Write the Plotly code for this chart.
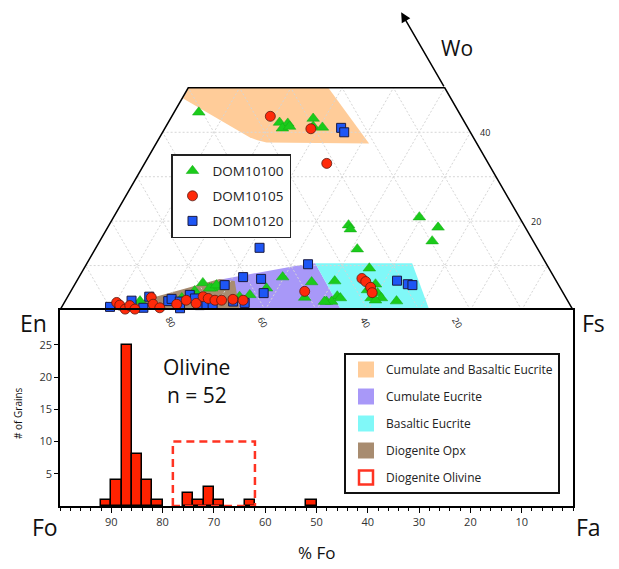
import math
import plotly.graph_objects as go

# ---------------- data ----------------
# Pyroxene compositions, mol% (Fs, Wo); En = 100 - Fs - Wo
dom10100_fs = [4.8, 21.7, 23.4, 22.9, 24.1, 27.8, 28.7, 30.6,
               46.7, 47.5, 51.1, 59.6, 64.4, 64.8,
               55.6, 50.3, 58.6, 60.0, 52.5, 53.3, 51.0, 52.0, 59.3, 61.3, 64.6, 60.4, 57.7,
               39.7, 45.9, 46.3, 50.6, 37.8, 35.3, 28.5, 27.1,
               14.6, 22.4, 24.1, 24.8, 26.7, 27.7, 33.5, 25.0]
dom10100_wo = [44.5, 42.2, 42.0, 40.9, 41.3, 43.1, 41.3, 41.1,
               19.1, 18.2, 13.7, 20.9, 18.6, 15.5,
               9.4, 6.5, 5.8, 3.8, 3.1, 2.7, 1.9, 1.9, 2.7, 2.7, 2.0, 2.2, 4.5,
               7.4, 6.3, 2.8, 1.9, 4.9, 3.4, 5.2, 4.9,
               2.0, 2.7, 4.3, 6.1, 4.9, 5.6, 3.0, 3.4]

dom10105_fs = [19.2, 28.5, 35.5, 55.3, 56.4, 58.0, 58.9, 45.6, 10.2, 11.1, 12.6, 13.1,
               14.5, 16.4, 17.5, 19.2, 22.1, 23.5, 25.8, 26.4, 27.6, 29.1, 30.4, 32.5, 34.6]
dom10105_wo = [43.6, 40.8, 33.0, 7.1, 6.4, 5.1, 3.9, 4.2, 1.7, 1.1, 0.2, 1.0,
               0.2, 2.8, 1.3, 0.5, 1.3, 2.2, 1.5, 3.0, 2.6, 2.2, 2.2, 2.4, 2.2]

dom10120_fs = [34.3, 35.4, 31.9, 43.2, 32.0, 35.7, 37.8, 35.2, 62.4, 64.9, 65.9, 9.4, 12.9,
               15.9, 16.0, 20.1, 20.5, 22.4, 23.6, 25.0, 26.7, 27.9, 29.3, 32.8, 29.1, 23.2]
dom10120_wo = [41.0, 40.0, 14.0, 10.3, 7.4, 7.0, 3.8, 1.6, 6.6, 5.8, 5.6, 0.7, 2.1,
               3.0, 0.5, 2.0, 2.5, 1.9, 3.4, 2.6, 1.1, 1.3, 5.6, 1.9, 1.3, 0.4]

# Compositional fields (Fs, Wo)
cbe_fs = [0.0, 27.3, 41.5, 21.4, 19.4, 17.5, 0.2]
cbe_wo = [50.0, 50.0, 37.5, 37.7, 38.2, 38.9, 47.6]
ce_fs = [17.0, 27.7, 41.6, 44.5, 54.8]
ce_wo = [0.0, 6.8, 10.1, 10.5, 0.0]
be_fs = [44.5, 63.4, 72.0, 54.8]
be_wo = [10.5, 10.5, 0.0, 0.0]
dio_fs = [13.6, 14.1, 27.6, 30.8, 35.0]
dio_wo = [0.0, 1.8, 7.0, 6.5, 0.0]

grid_vals = [10, 20, 30, 40, 50, 60, 70, 80, 90]
wo_tick_vals = [20, 40]
en_tick_vals = [80, 60, 40, 20]
wo_arrow_tip = 67  # Wo % reached by the axis arrow

# Olivine histogram (% Fo, 2% bins)
fo_bin_centers = [91, 89, 87, 85, 83, 81, 75, 73, 71, 69, 63, 51]
fo_counts = [1, 4, 25, 8, 4, 1, 2, 1, 3, 1, 1, 1]
dio_ol_fo = [78, 62]
dio_ol_count = 10
fo_tick_vals = [90, 80, 70, 60, 50, 40, 30, 20, 10]
count_tick_vals = [5, 10, 15, 20, 25]

# ---------------- helpers ----------------
S3 = math.sqrt(3) / 2


def tx(fs, wo):
    return [f + w / 2 for f, w in zip(fs, wo)]


def ty(wo):
    return [w * S3 for w in wo]


W, H = 619, 569
ML, MR = 60, 46
PW = W - ML - MR
SCALE = PW / 100.0
TOP_BASE = 310   # pixel row of the En-Fs join
HIST_BASE = 506  # pixel row of zero count


def paper(px, py):
    return (px - ML) / PW, (H - py) / H


FONT = "Open Sans"
fig = go.Figure()

# fields
fields = [
    ("Cumulate and Basaltic Eucrite", cbe_fs, cbe_wo, "#FFCC99"),
    ("Cumulate Eucrite", ce_fs, ce_wo, "#A898F8"),
    ("Basaltic Eucrite", be_fs, be_wo, "#80F8F8"),
    ("Diogenite Opx", dio_fs, dio_wo, "#A88C70"),
]
for name, fs, wo, col in fields:
    fig.add_trace(go.Scatter(x=tx(fs, wo), y=ty(wo), fill="toself", fillcolor=col,
                             mode="none", showlegend=False, hoverinfo="skip",
                             xaxis="x", yaxis="y"))

# grid lines
gx, gy = [], []
for v in grid_vals:
    if v < 50:
        gx += [v / 2, 100 - v / 2, None]
        gy += [v * S3, v * S3, None]
    top = min(50, 100 - v)
    gx += [v, v + top / 2, None]          # constant Fs
    gy += [0, top * S3, None]
    gx += [100 - v, 100 - v - top / 2, None]  # constant En
    gy += [0, top * S3, None]
fig.add_trace(go.Scatter(x=gx, y=gy, mode="lines", line=dict(color="#d6d6d6", width=1, dash="2px,2px"),
                         showlegend=False, hoverinfo="skip", xaxis="x", yaxis="y"))

# outline
ox = [0, 25, 75, 100, 0]
oy = [0, 50 * S3, 50 * S3, 0, 0]
fig.add_trace(go.Scatter(x=ox, y=oy, mode="lines", line=dict(color="black", width=1.5),
                         showlegend=False, hoverinfo="skip", cliponaxis=False, xaxis="x", yaxis="y"))

# samples
fig.add_trace(go.Scatter(x=tx(dom10100_fs, dom10100_wo), y=ty(dom10100_wo), mode="markers",
                         name="DOM10100", legendrank=1, legendgroup="a", cliponaxis=False,
                         marker=dict(symbol="triangle-up", size=11, color="#1BCB1B",
                                     line=dict(color="#14a814", width=0.5)),
                         xaxis="x", yaxis="y", legend="legend"))
fig.add_trace(go.Scatter(x=tx(dom10120_fs, dom10120_wo), y=ty(dom10120_wo), mode="markers",
                         name="DOM10120", legendrank=3, legendgroup="c", cliponaxis=False,
                         marker=dict(symbol="square", size=9, color="#1E56F5",
                                     line=dict(color="#1a1a40", width=1)),
                         xaxis="x", yaxis="y", legend="legend"))
fig.add_trace(go.Scatter(x=tx(dom10105_fs, dom10105_wo), y=ty(dom10105_wo), mode="markers",
                         name="DOM10105", legendrank=2, legendgroup="b", cliponaxis=False,
                         marker=dict(symbol="circle", size=10, color="#FF2A0A",
                                     line=dict(color="#5a1a10", width=0.8)),
                         xaxis="x", yaxis="y", legend="legend"))

# histogram
fig.add_trace(go.Bar(x=fo_bin_centers, y=fo_counts, width=2, marker=dict(color="#FF2200",
                     line=dict(color="black", width=1.5)), showlegend=False,
                     xaxis="x2", yaxis="y2"))
fig.add_trace(go.Scatter(x=[dio_ol_fo[0], dio_ol_fo[0], dio_ol_fo[1], dio_ol_fo[1], dio_ol_fo[0]],
                         y=[0, dio_ol_count, dio_ol_count, 0, 0], mode="lines",
                         line=dict(color="#FF3322", width=2.5, dash="8px,5px"),
                         showlegend=False, xaxis="x2", yaxis="y2"))

# legend-2 proxies
for i, (name, fs, wo, col) in enumerate(fields):
    fig.add_trace(go.Scatter(x=[None], y=[None], mode="markers", name=name, legend="legend2",
                             legendgroup=name,
                             marker=dict(symbol="square", size=16, color=col),
                             xaxis="x2", yaxis="y2"))
fig.add_trace(go.Scatter(x=[None], y=[None], mode="markers", name="Diogenite Olivine", legend="legend2",
                         legendgroup="dol",
                         marker=dict(symbol="square-open", size=14, color="#FF3322",
                                     line=dict(width=2.5)),
                         xaxis="x2", yaxis="y2"))

# ---------------- annotations ----------------
ann = []


def label(text, px, py, size, **kw):
    x, y = paper(px, py)
    d = dict(text=text, x=x, y=y, xref="paper", yref="paper", showarrow=False,
             font=dict(size=size, color="#111", family=FONT), xanchor="center", yanchor="middle")
    d.update(kw)
    ann.append(d)


label("Wo", 457, 48, 21)
label("En", 33, 323, 23)
label("Fs", 593, 323, 23)
label("Fo", 45, 527, 23)
label("Fa", 588, 527, 23)
label("% Fo", 316, 552, 17)
label("Olivine", 196, 367, 21)
label("n = 52", 197, 395, 21)
label("# of Grains", 18, 413, 10, textangle=-90)

for w in wo_tick_vals:
    ann.append(dict(text=str(w), x=100 - w / 2 + 1.5, y=w * S3, xref="x", yref="y", showarrow=False,
                    font=dict(size=9, color="#222", family=FONT), xanchor="left", yanchor="middle"))
for e in en_tick_vals:
    px = ML + (100 - e) * SCALE
    x, y = paper(px - 2, 322)
    ann.append(dict(text=str(e), x=x, y=y, xref="paper", yref="paper", showarrow=False,
                    textangle=60, font=dict(size=9, color="#222", family=FONT)))

# Wo arrow (head at Wo = wo_arrow_tip on the En = 0 edge)
ann.append(dict(x=100 - wo_arrow_tip / 2, y=wo_arrow_tip * S3, ax=75, ay=50 * S3,
                xref="x", yref="y", axref="x", ayref="y",
                showarrow=True, arrowhead=2, arrowsize=1.3, arrowwidth=1.5, arrowcolor="black", text=""))

fig.update_layout(
    width=W, height=H, margin=dict(l=ML, r=MR, t=0, b=0),
    paper_bgcolor="white", plot_bgcolor="rgba(0,0,0,0)",
    font=dict(family=FONT, color="#222"),
    xaxis=dict(domain=[0, 1], range=[0, 100], visible=False, fixedrange=True),
    yaxis=dict(domain=[(H - TOP_BASE) / H, 1], range=[0, TOP_BASE / SCALE], visible=False, fixedrange=True),
    xaxis2=dict(domain=[0, 1], range=[100, 0], anchor="y2", tickvals=fo_tick_vals, ticks="outside",
                ticklen=5, tickwidth=1.2, tickcolor="black", showline=True, mirror=True,
                linecolor="black", linewidth=1.5, showgrid=False, zeroline=False,
                tickfont=dict(size=11, color="#333"),
                minor=dict(dtick=2, tick0=0, ticks="outside", ticklen=3, tickcolor="black", showgrid=False)),
    yaxis2=dict(domain=[(H - HIST_BASE) / H, (H - TOP_BASE) / H], range=[0, (HIST_BASE - TOP_BASE) / 6.45],
                anchor="x2", tickvals=count_tick_vals, ticks="outside", ticklen=4, tickcolor="black",
                showline=True, mirror=True, linecolor="black", linewidth=1.5, showgrid=False,
                zeroline=False, tickfont=dict(size=11, color="#333")),
    bargap=0,
    annotations=ann,
    legend=dict(x=paper(171, 154)[0], y=paper(171, 154)[1], xanchor="left", yanchor="top",
                bordercolor="#222", borderwidth=1.5, bgcolor="white",
                font=dict(size=13.5, family=FONT, color="#222"), tracegroupgap=4.5),
    legend2=dict(x=paper(344, 353)[0], y=paper(344, 353)[1], xanchor="left", yanchor="top",
                 bordercolor="#111", borderwidth=2, bgcolor="white",
                 font=dict(size=12, family=FONT, color="#222"), tracegroupgap=8),
    showlegend=True,
)

fig.write_html("out.html", config=dict(displayModeBar=False),
               post_script="document.body.style.margin='0';")
